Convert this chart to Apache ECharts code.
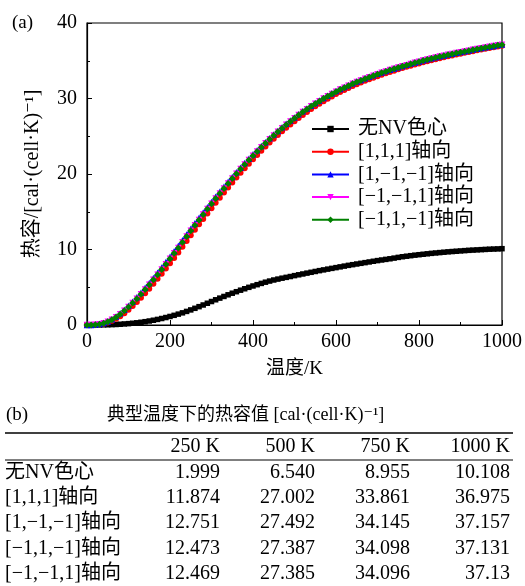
<!DOCTYPE html>
<html>
<head>
<meta charset="utf-8">
<script src="https://cdn.jsdelivr.net/npm/echarts@6/dist/echarts.min.js"></script>
<style>html,body{margin:0;padding:0;background:#fff}#c{width:525px;height:586px}</style>
</head>
<body>
<div id="c"></div>
<script>
var temps = [0,10,20,30,40,50,60,70,80,90,100,110,120,130,140,150,160,170,180,190,200,210,220,230,240,250,260,270,280,290,300,310,320,330,340,350,360,370,380,390,400,410,420,430,440,450,460,470,480,490,500,510,520,530,540,550,560,570,580,590,600,610,620,630,640,650,660,670,680,690,700,710,720,730,740,750,760,770,780,790,800,810,820,830,840,850,860,870,880,890,900,910,920,930,940,950,960,970,980,990,1000];

var noNV = [0,0,0,0.01,0.02,0.03,0.05,0.07,0.10,0.14,0.18,0.23,0.29,0.36,0.44,0.53,0.63,0.74,0.86,0.99,1.13,1.28,1.44,1.61,1.80,1.999,2.21,2.43,2.65,2.88,3.11,3.34,3.56,3.78,4.00,4.21,4.41,4.61,4.80,4.99,5.17,5.34,5.51,5.67,5.82,5.96,6.08,6.20,6.31,6.42,6.54,6.65,6.76,6.87,6.98,7.09,7.20,7.30,7.40,7.50,7.60,7.70,7.80,7.90,7.99,8.08,8.17,8.26,8.35,8.44,8.53,8.61,8.69,8.77,8.86,8.955,9.04,9.11,9.18,9.25,9.31,9.37,9.43,9.49,9.54,9.59,9.64,9.69,9.73,9.77,9.81,9.85,9.89,9.92,9.95,9.98,10.01,10.04,10.06,10.08,10.108];

var axis111 = [0,0.01,0.03,0.08,0.18,0.33,0.55,0.83,1.17,1.57,2.02,2.51,3.04,3.60,4.19,4.81,5.45,6.11,6.79,7.48,8.18,8.89,9.61,10.35,11.11,11.874,12.60,13.33,14.05,14.77,15.48,16.18,16.87,17.55,18.22,18.88,19.52,20.15,20.77,21.37,21.96,22.53,23.09,23.63,24.16,24.67,25.17,25.65,26.12,26.57,27.002,27.42,27.83,28.22,28.60,28.96,29.31,29.65,29.97,30.28,30.58,30.87,31.14,31.40,31.65,31.89,32.12,32.34,32.55,32.75,32.95,33.15,33.34,33.52,33.69,33.861,34.03,34.19,34.35,34.50,34.65,34.80,34.94,35.08,35.21,35.34,35.47,35.59,35.71,35.83,35.94,36.05,36.16,36.27,36.38,36.48,36.58,36.68,36.78,36.88,36.975];

var axis1mm = [0,0.01,0.05,0.13,0.27,0.48,0.77,1.12,1.55,2.02,2.54,3.09,3.68,4.28,4.92,5.57,6.24,6.93,7.63,8.33,9.04,9.77,10.49,11.23,11.99,12.751,13.48,14.19,14.91,15.61,16.30,16.98,17.65,18.32,18.97,19.61,20.23,20.84,21.45,22.03,22.60,23.15,23.70,24.22,24.73,25.23,25.71,26.18,26.64,27.07,27.492,27.90,28.30,28.68,29.05,29.40,29.74,30.07,30.38,30.68,30.98,31.25,31.51,31.77,32.01,32.25,32.46,32.67,32.88,33.07,33.27,33.45,33.64,33.82,33.98,34.145,34.31,34.47,34.62,34.76,34.91,35.06,35.19,35.33,35.46,35.59,35.71,35.83,35.94,36.05,36.16,36.27,36.37,36.48,36.59,36.68,36.78,36.88,36.97,37.07,37.157];

var axismm1 = [0,0.01,0.04,0.11,0.24,0.43,0.70,1.03,1.43,1.88,2.38,2.91,3.48,4.07,4.69,5.33,5.99,6.67,7.36,8.06,8.77,9.49,10.21,10.95,11.71,12.469,13.20,13.92,14.64,15.35,16.05,16.74,17.42,18.09,18.75,19.40,20.03,20.65,21.26,21.85,22.43,22.99,23.54,24.07,24.59,25.09,25.58,26.06,26.52,26.96,27.385,27.80,28.20,28.58,28.96,29.31,29.65,29.99,30.30,30.60,30.90,31.18,31.44,31.70,31.94,32.18,32.40,32.61,32.82,33.01,33.21,33.40,33.59,33.77,33.93,34.096,34.26,34.42,34.58,34.72,34.87,35.02,35.15,35.29,35.42,35.55,35.67,35.79,35.91,36.02,36.13,36.24,36.34,36.45,36.56,36.65,36.75,36.85,36.94,37.04,37.13];

var axism1m = [0,0.01,0.04,0.11,0.24,0.43,0.70,1.03,1.43,1.88,2.38,2.91,3.48,4.07,4.69,5.33,5.99,6.67,7.36,8.06,8.77,9.49,10.21,10.95,11.71,12.473,13.20,13.92,14.64,15.35,16.05,16.74,17.42,18.09,18.75,19.40,20.03,20.65,21.26,21.85,22.43,22.99,23.54,24.07,24.59,25.09,25.58,26.06,26.52,26.96,27.387,27.80,28.20,28.58,28.96,29.31,29.65,29.99,30.30,30.60,30.90,31.18,31.44,31.70,31.94,32.18,32.40,32.61,32.82,33.01,33.21,33.40,33.59,33.77,33.93,34.098,34.26,34.42,34.58,34.72,34.87,35.02,35.15,35.29,35.42,35.55,35.67,35.79,35.91,36.02,36.13,36.24,36.34,36.45,36.56,36.65,36.75,36.85,36.94,37.04,37.131];

var seriesNames = ['无NV色心', '[1,1,1]轴向', '[1,\u22121,\u22121]轴向', '[\u22121,\u22121,1]轴向', '[\u22121,1,\u22121]轴向'];

var tableTitle = '典型温度下的热容值 [cal·(cell·K)⁻¹]';
var tableCols = ['250 K', '500 K', '750 K', '1000 K'];
var tableRows = ['无NV色心', '[1,1,1]轴向', '[1,\u22121,\u22121]轴向', '[\u22121,1,\u22121]轴向', '[\u22121,\u22121,1]轴向'];
var tableVals = [
  ['1.999', '6.540', '8.955', '10.108'],
  ['11.874', '27.002', '33.861', '36.975'],
  ['12.751', '27.492', '34.145', '37.157'],
  ['12.473', '27.387', '34.098', '37.131'],
  ['12.469', '27.385', '34.096', '37.13']
];

var FONT = '"Liberation Serif", "DejaVu Serif", "Noto Sans CJK SC", serif';

function pairs(arr) { return temps.map(function (t, i) { return [t, arr[i]]; }); }

var styles = [
  { data: noNV, color: '#000000', symbol: 'rect', size: 5.5, rot: 0 },
  { data: axis111, color: '#ff0000', symbol: 'circle', size: 6, rot: 0 },
  { data: axis1mm, color: '#0000ff', symbol: 'triangle', size: 6.5, rot: 0 },
  { data: axismm1, color: '#ff00ff', symbol: 'triangle', size: 6.5, rot: 180 },
  { data: axism1m, color: '#008000', symbol: 'diamond', size: 7, rot: 0 }
];

var series = styles.map(function (s, i) {
  return {
    name: seriesNames[i], type: 'line', data: pairs(s.data),
    symbol: s.symbol, symbolSize: s.size, symbolRotate: s.rot, showAllSymbol: true,
    lineStyle: { color: s.color, width: 1.5 }, itemStyle: { color: s.color },
    animation: false
  };
});

var graphics = [];
var tX0 = 5, tX1 = 513;
var colRight = [220, 315, 410, 510];
graphics.push({ type: 'text', style: { text: '(a)', x: 12, y: 23, fontFamily: FONT, fontSize: 19, fill: '#000', textVerticalAlign: 'middle' } });
graphics.push({ type: 'text', style: { text: '(b)', x: 6, y: 415, fontFamily: FONT, fontSize: 19, fill: '#000', textVerticalAlign: 'middle' } });
graphics.push({ type: 'text', style: { text: tableTitle, x: 107, y: 415, fontFamily: FONT, fontSize: 18, fill: '#000', textVerticalAlign: 'middle' } });
graphics.push({ type: 'line', shape: { x1: tX0, y1: 433, x2: tX1, y2: 433 }, style: { stroke: '#000', lineWidth: 1.3 } });
graphics.push({ type: 'line', shape: { x1: tX0, y1: 460, x2: tX1, y2: 460 }, style: { stroke: '#000', lineWidth: 1 } });
tableCols.forEach(function (c, j) {
  graphics.push({ type: 'text', style: { text: c, x: colRight[j], y: 447, fontFamily: FONT, fontSize: 20, fill: '#000', textAlign: 'right', textVerticalAlign: 'middle' } });
});
tableRows.forEach(function (r, i) {
  var y = 472.5 + 25.3 * i;
  graphics.push({ type: 'text', style: { text: r, x: 5, y: y, fontFamily: FONT, fontSize: 20, fill: '#000', textVerticalAlign: 'middle' } });
  tableVals[i].forEach(function (v, j) {
    graphics.push({ type: 'text', style: { text: v, x: colRight[j], y: y, fontFamily: FONT, fontSize: 20, fill: '#000', textAlign: 'right', textVerticalAlign: 'middle' } });
  });
});

var chart = echarts.init(document.getElementById('c'), null, { renderer: 'canvas' });
chart.setOption({
  backgroundColor: '#fff',
  animation: false,
  grid: { left: 87, right: 23, top: 23, height: 302, show: true, borderColor: '#000', borderWidth: 1.2, backgroundColor: 'transparent' },
  xAxis: {
    type: 'value', min: 0, max: 1000, interval: 200,
    name: '温度/K', nameLocation: 'middle', nameGap: 35,
    nameTextStyle: { fontFamily: FONT, fontSize: 19, color: '#000' },
    axisLine: { lineStyle: { color: '#000', width: 1.2 } },
    axisTick: { inside: true, length: 5, lineStyle: { color: '#000' } },
    minorTick: { show: true, splitNumber: 2, length: 3, lineStyle: { color: '#000' } },
    splitLine: { show: false },
    axisLabel: { fontFamily: FONT, fontSize: 20, color: '#000', margin: 7, formatter: function (v) { return String(v); } }
  },
  yAxis: {
    type: 'value', min: 0, max: 40, interval: 10,
    name: '热容/[cal·(cell·K)⁻¹]', nameLocation: 'middle', nameGap: 44,
    nameTextStyle: { fontFamily: FONT, fontSize: 20, color: '#000' },
    axisLine: { show: true, lineStyle: { color: '#000', width: 1.2 } },
    axisTick: { show: true, inside: true, length: 5, lineStyle: { color: '#000' } },
    minorTick: { show: true, splitNumber: 2, length: 3, lineStyle: { color: '#000' } },
    splitLine: { show: false },
    axisLabel: { fontFamily: FONT, fontSize: 20, color: '#000', margin: 10 }
  },
  legend: {
    orient: 'vertical', left: 306, top: 114,
    itemWidth: 37, itemHeight: 8, itemGap: 2.7,
    textStyle: { fontFamily: FONT, fontSize: 20, color: '#000', lineHeight: 20, padding: [0, 0, 0, 4] },
    data: seriesNames
  },
  series: series,
  graphic: graphics
});
</script>
</body>
</html>
